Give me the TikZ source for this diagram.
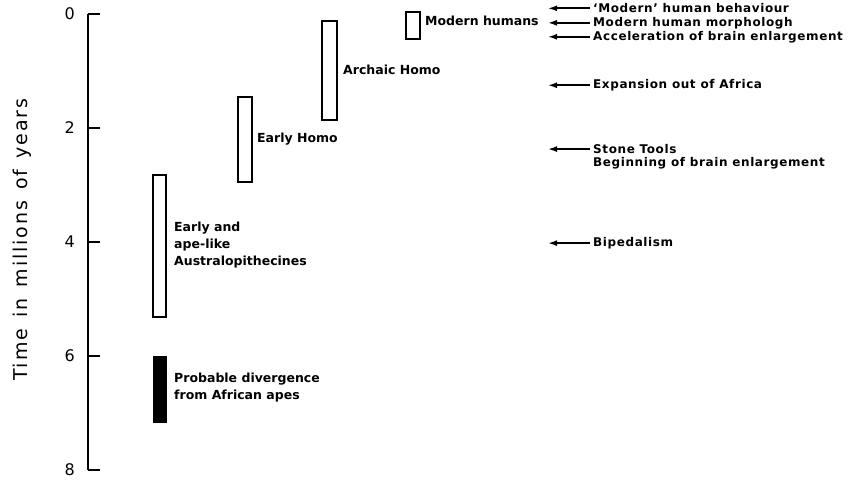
\documentclass[tikz,border=0pt]{standalone}
\usepackage{fontspec}
\setmainfont{DejaVu Sans}
\usetikzlibrary{arrows.meta}

\begin{document}
\begin{tikzpicture}[x=1pt, y=-57pt,
			>={Latex[length=9pt,width=6pt]},   %Pfeilspitzen
			bar/.style={draw, line width=1.6pt},
			lab/.style={anchor=west, inner sep=0pt, align=left, font=\bfseries\fontsize{12.5}{17}\selectfont},
			evt/.style={anchor=west, inner sep=0pt, font=\bfseries\fontsize{12}{14}\selectfont\addfontfeature{LetterSpace=5}},
			pointer/.style={->, line width=1.6pt}]
			\useasboundingbox (0,-0.2456) rectangle (850,8.228);
			% Achse zeichnen
			\draw[line width=1.6pt] (88,0) -- (88,8);
			\foreach \t in {0,2,...,8} \draw[line width=1.6pt] (88,\t) -- (100,\t) node[pos=0, left=9pt, font=\fontsize{16}{16}\selectfont] {\t};
			% Achse beschriften
			\node[rotate=90, font=\fontsize{19}{19}\selectfont\addfontfeature{LetterSpace=10}] (axlabel) at (22,3.96) {Time\, in\, millions\, of\, years};
			% Balken
			\draw[bar] (153,2.82) rectangle (166,5.32);
			\fill (153,6.0) rectangle (167,7.18);
			\draw[bar] (238,1.46) rectangle (252,2.95);
			\draw[bar] (322,0.12) rectangle (337,1.86);
			\draw[bar] (406,-0.04) rectangle (420,0.44);
			% Beschriftung der Balken
			\node[lab] (australo) at (174,4.05) {Early and\\ape-like\\Australopithecines};
			\node[lab] (divergence) at (174,6.56) {Probable divergence\\from African apes};
			\node[lab] (earlyhomo) at (257,2.19) {Early Homo};
			\node[lab] (archaic) at (343,0.98) {Archaic Homo};
			\node[lab] (modern) at (425,0.12) {Modern humans};
			% Ereignisse
			\coordinate (tip) at (548,0);
			\node[evt] (behaviour) at (593,-0.10) {`Modern' human behaviour};
			\node[evt] (morphology) at (593,0.155) {Modern human morphologh};
			\node[evt] (brainacc) at (593,0.40) {Acceleration of brain enlargement};
			\node[evt] (africa) at (593,1.25) {Expansion out of Africa};
			\node[evt] (tools) at (593,2.37) {Stone Tools};
			\node[evt] (brainbeg) at (593,2.61) {Beginning of brain enlargement};
			\node[evt] (bipedal) at (593,4.02) {Bipedalism};
			\foreach \e in {behaviour,morphology,brainacc,africa,tools,bipedal}
				\draw[pointer] ([xshift=-3pt]\e.west) -- (\e.west -| tip);
		\end{tikzpicture}
\end{document}
